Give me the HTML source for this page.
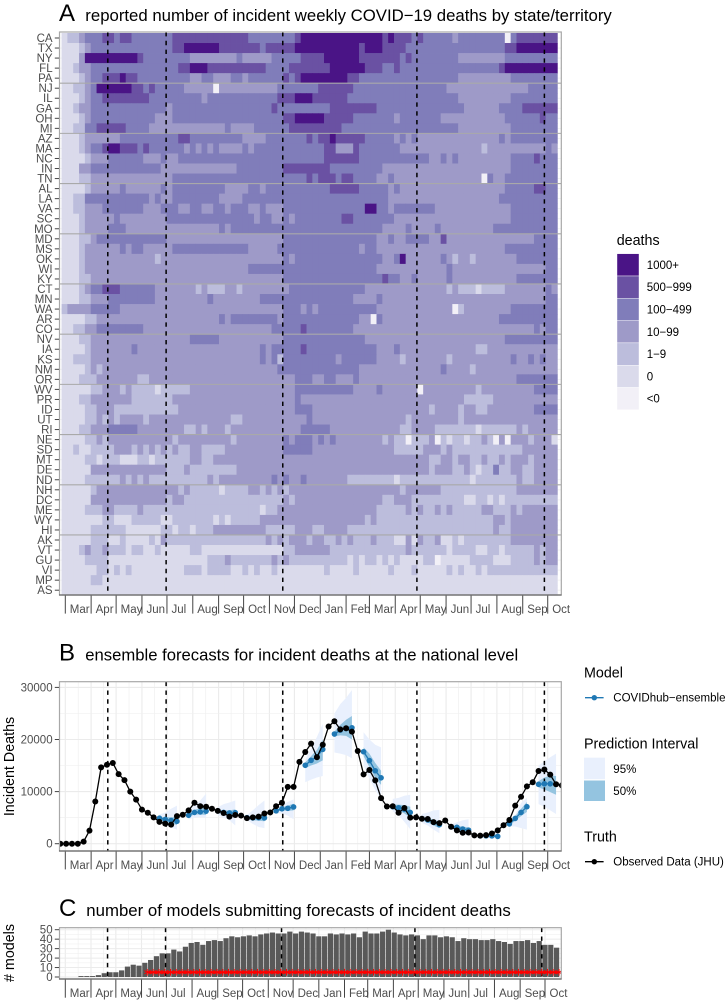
<!DOCTYPE html>
<html lang="en">
<head>
<meta charset="utf-8">
<title>COVID-19 incident deaths, forecasts and models</title>
<style>
html,body{margin:0;padding:0;background:#fff}
svg{display:block}
text{font-family:"Liberation Sans",sans-serif}
</style>
</head>
<body>
<svg id="fig" xmlns="http://www.w3.org/2000/svg" width="728" height="1003" viewBox="0 0 728 1003">
  <rect x="0" y="0" width="728" height="1003" fill="#fff"/>
  <defs>
    <clipPath id="clipB"><rect x="59" y="681.7" width="502" height="169.3"/></clipPath>
    <clipPath id="clipC"><rect x="59" y="927.7" width="502.5" height="51.3"/></clipPath>
  </defs>

  <text x="59" y="20.8" font-size="24" fill="#000">A</text>
  <text x="85.3" y="20.8" font-size="16.75" fill="#000">reported number of incident weekly COVID−19 deaths by state/territory</text>
  <text x="59" y="660.7" font-size="24" fill="#000">B</text>
  <text x="85.3" y="660.7" font-size="16.65" fill="#000">ensemble forecasts for incident deaths at the national level</text>
  <text x="59" y="916" font-size="24" fill="#000">C</text>
  <text x="86.3" y="916" font-size="16.8" fill="#000">number of models submitting forecasts of incident deaths</text>

  <g id="panelA"></g>
  <g id="panelB"></g>
  <g id="panelC"></g>

  <text transform="translate(14,766.5) rotate(-90)" text-anchor="middle" font-size="14.3" fill="#000">Incident Deaths</text>
  <text transform="translate(14,953) rotate(-90)" text-anchor="middle" font-size="14.3" fill="#000"># models</text>

  <g id="legendA">
    <text x="616.7" y="245" font-size="14.3" fill="#000">deaths</text>
  </g>

  <g>
    <text x="584" y="677.3" font-size="14.3" fill="#000">Model</text>
    <line x1="585" x2="603.6" y1="697.7" y2="697.7" stroke="#1f78b4" stroke-width="1.3"/>
    <circle cx="594.3" cy="697.7" r="2.7" fill="#1f78b4"/>
    <text x="613.3" y="701.7" font-size="11.5" fill="#000">COVIDhub−ensemble</text>
  </g>
  <g>
    <text x="584" y="748.3" font-size="14.3" fill="#000">Prediction Interval</text>
    <rect x="584" y="757.7" width="21" height="21.5" fill="#e9f0fd"/>
    <rect x="584" y="780.5" width="21" height="20.5" fill="#94c4e0"/>
    <text x="613.3" y="773" font-size="11.5" fill="#000">95%</text>
    <text x="613.3" y="795" font-size="11.5" fill="#000">50%</text>
  </g>
  <g>
    <text x="584" y="841.7" font-size="14.3" fill="#000">Truth</text>
    <line x1="585" x2="603.6" y1="861.7" y2="861.7" stroke="#000" stroke-width="1.3"/>
    <circle cx="594.3" cy="861.7" r="2.7" fill="#000"/>
    <text x="613.3" y="865.7" font-size="11.5" fill="#000">Observed Data (JHU)</text>
  </g>
</svg>

<script>
// ---------- shared categories ----------
const monthDates = ["2020-03-01","2020-04-01","2020-05-01","2020-06-01","2020-07-01","2020-08-01","2020-09-01","2020-10-01","2020-11-01","2020-12-01","2021-01-01","2021-02-01","2021-03-01","2021-04-01","2021-05-01","2021-06-01","2021-07-01","2021-08-01","2021-09-01","2021-10-01"];
const monthLabels = ["Mar","Apr","May","Jun","Jul","Aug","Sep","Oct","Nov","Dec","Jan","Feb","Mar","Apr","May","Jun","Jul","Aug","Sep","Oct"];
const milestoneDates = ["2020-04-21","2020-06-30","2020-11-17","2021-04-27","2021-09-27"];

// ---------- panel A data ----------
const heatFirstWeek = "2020-02-29";
const states = ["CA","TX","NY","FL","PA","NJ","IL","GA","OH","MI","AZ","MA","NC","IN","TN","AL","LA","VA","SC","MO","MD","MS","OK","WI","KY","CT","MN","WA","AR","CO","NV","IA","KS","NM","OR","WV","PR","ID","UT","RI","NE","SD","MT","DE","ND","NH","DC","ME","WY","HI","AK","VT","GU","VI","MP","AS"];
const deathLevelLabels = ["<0","0","1−9","10−99","100−499","500−999","1000+"];
// one string per state; one digit per week = index into deathLevelLabels
const stateWeekLevels = [
"12234 44554 55444 44445 55555 55555 55444 44444 56666 66666 66666 56555 45444 44344 44444 40455 55555",
"11123 44444 44444 44445 56666 66555 55554 55555 66666 66666 65666 55554 44444 44444 44444 45566 66666",
"11136 66666 66654 44444 44333 33333 43333 34444 45555 66666 65555 55545 44444 44433 33333 34444 44444",
"11233 44444 44444 44444 55666 55555 55555 44445 55555 56666 66555 44544 44444 44444 44444 56666 66666",
"11123 44555 65544 44444 44334 43334 43444 44454 56666 66665 54444 44444 44444 44433 33333 33444 44444",
"11223 46666 66554 54444 43333 30333 33333 33444 44445 55555 44444 44444 44444 43333 33333 33333 44444",
"11123 44555 55555 44444 44443 44444 44444 44555 66655 55554 44444 44444 44444 44433 33333 33444 44444",
"11233 44444 44444 44434 44444 44444 44444 45444 44444 45555 55554 44444 44444 44443 33333 44445 55555",
"11123 44444 44444 43334 44444 44444 44444 44455 66666 55555 44444 44344 44444 33333 33333 34444 44544",
"11224 45555 54444 33333 33333 33343 33344 44445 55555 55544 44444 44444 44444 44433 33333 33444 44444",
"11123 33333 44444 44444 55444 44444 43333 44444 44545 56555 55444 44343 43333 33333 33333 43444 44444",
"11123 44566 55545 44444 43434 34333 34344 44444 44444 55333 54444 44433 33333 33333 33233 33333 33343",
"11112 33344 44443 33433 44444 44444 44444 44444 44444 55555 54444 44444 44433 43433 33333 33444 45444",
"11133 44444 44444 44333 33333 33333 44444 44455 55555 54444 44444 33333 33333 33333 33333 33444 44444",
"11122 33333 33333 33334 44444 44444 44444 44444 44545 55455 44443 34333 33333 33333 33043 34444 44444",
"11112 33333 43333 33434 44444 44433 33443 44444 44444 45555 54444 43433 33333 33333 33333 34444 45544",
"11224 44444 44444 34334 44444 44333 34444 44444 44444 44444 44444 43333 33333 33333 33333 44444 44444",
"11223 33444 44443 33444 33443 34434 44334 33344 44444 44444 44664 43444 44443 33333 33333 33444 44444",
"11123 33334 33333 33344 44444 44444 44434 43343 44444 44455 44444 44333 33333 33333 33333 33444 44444",
"11123 33344 43333 33333 33333 33434 44444 44444 44444 44444 44444 33334 33334 33333 33334 44444 44444",
"11122 34444 44444 44433 33333 33333 33333 33344 44444 44444 44443 34334 44433 53333 33333 33333 34444",
"11123 33333 43443 33334 44444 44444 44333 33444 44444 44444 43443 33333 33333 33333 33333 34444 44444",
"11123 33333 33333 32333 33333 33333 33333 33343 44444 44444 44444 33463 33333 43233 23333 33344 44444",
"11123 33333 33333 33333 33333 33333 33444 44444 44444 44444 44443 33333 33333 34333 33333 33333 33344",
"11122 33333 33333 33333 33333 33333 33333 33344 44444 44444 44444 54433 43333 34333 33333 33344 44444",
"11123 44555 44444 43333 33323 22233 23333 33334 44444 44444 44333 33333 33333 32322 21222 23333 33343",
"11122 33344 44444 43333 33333 43333 33334 44444 44444 44444 33334 33333 33333 33333 33333 33333 33344",
"23333 44444 33333 33333 33333 33333 33333 33344 43434 44444 44443 33333 33333 33023 33333 33444 44444",
"11112 23333 33333 33333 33333 33434 44444 44344 44444 44444 43304 33333 33333 33333 33333 44444 44444",
"11223 34444 44443 33333 33333 33333 33333 34444 45444 44444 33333 33333 33333 33333 33333 33333 34344",
"11122 33333 33333 33333 33444 44333 33333 33344 44444 44444 44333 33333 33333 33333 33333 34444 44444",
"11112 33333 33433 33333 33333 33333 33334 34444 45444 44444 44443 33433 33333 33333 32233 33333 33333",
"11222 33333 33333 33333 33333 33333 33334 34244 44444 44344 44443 33323 33333 32333 33333 33433 43433",
"11112 32333 33333 33333 33333 33333 33333 33444 44444 44444 43333 33333 33333 43333 23333 33333 33333",
"11122 23333 33322 33333 33333 33333 33333 33333 44433 44333 43333 33333 33333 33333 33333 33344 44444",
"11111 22333 23222 21222 22333 33333 33333 33333 44444 44444 33334 33333 30333 33333 32333 33333 34444",
"11122 33333 33222 22223 33333 33333 33333 33333 43333 33333 33333 33333 33333 33332 22223 33333 33333",
"11112 23332 22222 22222 33333 33333 33333 33333 44433 33333 33333 33333 33323 33323 32233 33333 34444",
"11112 23232 33332 33333 33333 33332 23333 33333 33433 33333 33333 33332 33333 33323 33333 33333 33333",
"11122 33344 44433 33333 32232 33323 33333 33333 34444 43333 33333 33322 33332 22222 21222 22232 33333",
"11112 23233 33333 33332 33333 33332 33333 33343 44434 34333 33333 23220 22230 21221 22320 30333 23331",
"11211 22223 33232 32323 22332 22233 33333 33344 44433 33333 33333 33222 22333 23222 22222 22223 33333",
"11112 21222 11122 12222 22332 23333 33333 33333 33333 33333 33333 33333 33322 33233 22322 32333 23333",
"11111 33333 33333 33322 23222 22222 33333 33333 33333 33333 33333 33333 33323 33223 21224 22332 23333",
"11112 22222 32323 22222 22222 32333 33333 34343 34333 33332 22222 22122 22222 22222 12222 22232 23333",
"11111 23333 33333 33333 23222 22122 22332 32323 33333 33333 33333 33323 33333 22222 22222 22233 33333",
"11111 33333 33333 33323 32222 22222 22222 22232 33333 33333 33333 22333 22222 22221 12212 12222 22222",
"11112 22332 22232 22222 22222 22222 22221 22333 33333 33333 33332 22223 23223 23222 22332 22323 33333",
"11111 11221 11222 22112 22222 21212 22223 33333 33333 33333 33232 22222 22222 22222 22223 32333 33333",
"11111 22222 21111 11221 22122 23333 33333 22222 33322 33332 22222 22222 22222 22222 22223 22333 33333",
"11111 22211 21111 21322 22222 22222 22222 32323 33233 22323 22232 22113 13223 11212 22222 22333 33333",
"11123 22322 21221 12111 11221 11111 11111 11122 33333 32222 22222 22223 22222 21222 21122 12222 23233",
"11112 22211 11111 11111 11111 22232 22222 23232 22222 22221 21221 21211 11220 11111 22221 11222 23233",
"11111 12212 12111 11111 12221 22221 12121 12111 11111 21111 21111 12111 21111 12121 12122 22222 22222",
"11111 22111 11111 11111 11111 11111 11111 11111 11111 11111 11111 11111 11111 11111 11111 11111 11111",
"11111 11111 11111 11111 11111 11111 11111 11111 11111 11111 11111 11111 11111 11111 11111 11111 11111"
];

// ---------- panel B data ----------
const truthFirstWeek = "2020-02-24";
const truthDeaths = [0,0,0,0,400,2500,8100,14650,15150,15500,13350,12200,10000,8450,6550,5950,5050,4200,3850,3650,5300,5550,6400,7850,7200,7100,6700,6300,5900,5200,5500,5400,4900,5050,5200,5800,6000,7200,7850,10900,10900,15700,17600,19200,16600,19000,22500,23500,21950,22150,21500,17800,13300,14150,12150,8750,7150,7200,5950,6850,5000,5050,4800,4750,4150,3950,4450,3250,2550,2100,2150,1600,1550,1650,1950,2550,3550,4550,7300,9000,11000,11800,13950,14250,13250,11400,11200];
const deathTicks = [0,10000,20000,30000];
const deathTickLabels = ["0","10000","20000","30000"];
const deathMinorTicks = [5000,15000,25000];
const forecastStartWeek = [17,22,27,32,37,42,47,52,57,62,67,72,77,82];
const forecastMedian = [[4900,4650,4450,4300],[5450,6000,6100,6250],[6300,6000,5900,5950],[5000,4950,5000,4950],[6300,6700,6800,7050],[15050,16000,16700,18100],[21050,21800,22100,22250],[17650,15950,14000,12650],[7100,6900,6600,6000],[4800,4550,4100,3650],[3250,3150,2800,2600],[1500,1500,1500,1400],[3800,4850,6000,7100],[11400,11500,11500,11400]];
const forecastLow50 = [[4600,4200,3900,3600],[5100,5600,5600,5500],[6000,5600,5300,5200],[4800,4500,4400,4300],[6100,6400,6300,6400],[14500,15000,15400,16000],[20600,20800,20700,20000],[16800,14700,12600,11300],[6700,6300,5800,5000],[4500,4100,3500,3000],[3000,2800,2400,2100],[1400,1350,1300,1150],[3500,4400,5300,6100],[10800,10400,9900,9400]];
const forecastHigh50 = [[5200,5100,5100,5100],[5800,6500,6900,7200],[6500,6400,6400,6600],[5200,5400,5500,5700],[6500,7000,7300,7700],[15600,16800,18000,20000],[21500,22800,23800,24500],[18500,17300,15500,14000],[7500,7500,7400,7100],[5100,5000,4600,4300],[3450,3400,3300,3100],[1600,1650,1700,1700],[4100,5300,6700,8000],[12000,12700,13100,13000]];
const forecastLow95 = [[4200,3600,3100,2700],[4700,5000,5100,5000],[5500,5000,4500,3500],[4500,3800,3200,3000],[5800,5800,5400,4700],[11800,12300,12700,13000],[17500,17300,17000,16400],[15000,12500,10300,8500],[6200,5500,4200,2800],[4000,3500,2700,2000],[2700,2200,1800,1500],[1250,1150,1050,1000],[3300,3300,3000,2700],[7600,7100,6400,5700]];
const forecastHigh95 = [[5600,6000,6700,7300],[6300,7300,8300,9600],[7000,7600,7900,8300],[5500,6400,7400,8300],[6800,7400,8000,8500],[16050,18200,20500,23000],[25000,26800,28000,29500],[21400,20000,19000,18500],[8600,8800,9200,9400],[5700,6000,6400,6500],[3700,4100,4500,4700],[1750,1900,2000,2200],[4300,5500,7800,8800],[15000,15800,16600,17300]];

// ---------- panel C data ----------
const modelFirstWeek = "2020-03-20";
const modelCounts = [1,1,1,2,4,5,5,7,11,13,12,15,18,22,25,25,29,27,32,36,37,34,38,39,38,41,43,42,43,44,43,45,46,47,46,46,48,46,48,47,46,43,43,46,45,46,45,46,42,48,46,46,48,50,47,45,44,45,44,40,44,44,42,43,42,38,41,40,40,39,39,40,38,37,35,38,38,39,36,38,34,34,31];
const modelTicks = [0,10,20,30,40,50];
const modelTickLabels = ["0","10","20","30","40","50"];
const modelMinorTicks = [5,15,25,35,45];
const thresholdFirstWeek = "2020-06-08";
const thresholdModels = [5,5,5,5,5,5,5,5,5,5,5,5,5,5,5,5,5,5,5,5,5,5,5,5,5,5,5,5,5,5,5,5,5,5,5,5,5,5,5,5,5,5,5,5,5,5,5,5,5,5,5,5,5,5,5,5,5,5,5,5,5,5,5,5,5,5,5,5,5,5,5,5];

// ---------- style (not data) ----------
const levelColors = ["#f2f0f7","#dadaeb","#bcbddc","#9e9ac8","#807dba","#6a51a3","#4a1486"];
const NS = "http://www.w3.org/2000/svg";

function mk(tag, attrs, parent, txt) {
  const e = document.createElementNS(NS, tag);
  for (const k in attrs) e.setAttribute(k, attrs[k]);
  if (txt !== undefined) e.textContent = txt;
  parent.appendChild(e);
  return e;
}
function dayOf(s) { return (Date.parse(s + "T00:00:00Z") - Date.parse("2020-03-01T00:00:00Z")) / 864e5; }
function xTop(d) { return 65.3 + d * 0.8332; }
function xBot(d) { return 65.3 + d * 0.8285; }
function rowY(i) { return 38 + i * 10.04; }
function yDeaths(v) { return 843.7 - v * 0.00521; }
function yModels(v) { return 977 - v * 0.946; }

function drawMonthAxis(parent, xFn, top, bottom, baseline) {
  monthDates.forEach(function (m, i) {
    const x = xFn(dayOf(m));
    const t = mk("line", { x1: x, x2: x, y1: top, y2: bottom, stroke: "#444", "stroke-width": 1 }, parent);
    
    
    const l = mk("text", { x: x + 4.5, y: baseline, "font-size": 11.5, fill: "#4d4d4d" }, parent, monthLabels[i]);
    
    
  });
}
function drawMilestones(parent, xFn, top, bottom) {
  milestoneDates.forEach(function (m) {
    const x = xFn(dayOf(m));
    const d = mk("line", { x1: x, x2: x, y1: top, y2: bottom, stroke: "#000", "stroke-width": 1.5, "stroke-dasharray": "4.4 4.4" }, parent);
    
    
  });
}
function drawVerticalGrid(parent, xFn, top, bottom) {
  monthDates.forEach(function (m, i) {
    const d = dayOf(m);
    const x = xFn(d);
    const g = mk("line", { x1: x, x2: x, y1: top, y2: bottom, stroke: "#ebebeb", "stroke-width": 1.1 }, parent);
    
    
    if (i + 1 < monthDates.length) {
      const xm = xFn((d + dayOf(monthDates[i + 1])) / 2);
      const gm = mk("line", { x1: xm, x2: xm, y1: top, y2: bottom, stroke: "#f0f0f0", "stroke-width": 0.7 }, parent);
      
      
    }
  });
}
function drawFrame(parent, top, bottom) {
  const f = mk("rect", { x: 59.5, y: top, width: 501.8, height: bottom - top, fill: "none", stroke: "#a8a8a8", "stroke-width": 1.2 }, parent);
  
  
  const b = mk("line", { x1: 59, x2: 561.5, y1: bottom, y2: bottom, stroke: "#666", "stroke-width": 1.2 }, parent);
  
  
}
function drawYTick(parent, y, label) {
  const t = mk("line", { x1: 54.8, x2: 59, y1: y, y2: y, stroke: "#444", "stroke-width": 1 }, parent);
  
  
  const l = mk("text", { x: 52.6, y: y + 4, "text-anchor": "end", "font-size": 11.5, fill: "#4d4d4d" }, parent, label);
  
  
}

// ---------- panel A ----------
(function () {
  const p = document.getElementById("panelA");
  const firstDay = dayOf(heatFirstWeek);
  const cw = 7 * 0.8332;
  const ch = 10.04;
  states.forEach(function (s, r) {
    const y = rowY(r);
    const g = mk("line", { x1: 59, x2: 561, y1: y, y2: y, stroke: "#f0f0f0", "stroke-width": 0.8 }, p);
    
    
  });
  states.forEach(function (s, r) {
    const levels = stateWeekLevels[r].replace(/\s/g, "").split("").map(Number);
    levels.forEach(function (lv, k) {
      const cx = xTop(firstDay + 7 * k);
      const c = mk("rect", { x: cx - cw / 2, y: rowY(r) - ch / 2, width: cw + 0.4, height: ch + 0.4, fill: levelColors[lv] }, p);
      
      
    });
  });
  states.forEach(function (s, r) {
    if (r % 5 === 4 && r < 50) {
      const y = rowY(r) + ch / 2;
      const h = mk("line", { x1: 59, x2: 561, y1: y, y2: y, stroke: "#a9a9a9", "stroke-width": 1.1 }, p);
      
      
    }
  });
  drawMilestones(p, xTop, 32, 595);
  drawFrame(p, 32, 595);
  states.forEach(function (s, r) {
    drawYTick(p, rowY(r), s);
  });
  drawMonthAxis(p, xTop, 595.6, 613.6, 613.2);
})();

// ---------- deaths legend ----------
(function () {
  const p = document.getElementById("legendA");
  const n = deathLevelLabels.length;
  for (let i = 0; i < n; i++) {
    const lv = n - 1 - i;
    const y = 253.7 + i * 22.3;
    const s = mk("rect", { x: 617, y: y, width: 22, height: 22.3, fill: levelColors[lv], stroke: "#fff", "stroke-width": 0.4 }, p);
    
    
    const l = mk("text", { x: 646.7, y: y + 15.2, "font-size": 11.5, fill: "#000" }, p, deathLevelLabels[lv]);
    
    
  }
})();

// ---------- panel B ----------
(function () {
  const p = document.getElementById("panelB");
  const inner = mk("g", { "clip-path": "url(#clipB)" }, p);
  
  
  const top = 681.7, bottom = 851;
  drawVerticalGrid(inner, xTop, top, bottom);
  deathTicks.forEach(function (v) {
    const g = mk("line", { x1: 59, x2: 561, y1: yDeaths(v), y2: yDeaths(v), stroke: "#ebebeb", "stroke-width": 1.1 }, inner);
    
    
  });
  deathMinorTicks.forEach(function (v) {
    const g = mk("line", { x1: 59, x2: 561, y1: yDeaths(v), y2: yDeaths(v), stroke: "#f0f0f0", "stroke-width": 0.7 }, inner);
    
    
  });
  const d0 = dayOf(truthFirstWeek);
  function wx(k) { return xTop(d0 + 7 * k); }
  function band(startK, lo, hi) {
    const a = hi.map(function (v, i) { return wx(startK + i) + "," + yDeaths(v); });
    const b = lo.map(function (v, i) { return wx(startK + i) + "," + yDeaths(v); }).reverse();
    return a.concat(b).join(" ");
  }
  forecastStartWeek.forEach(function (k0, g) {
    const r95 = mk("polygon", { points: band(k0, forecastLow95[g], forecastHigh95[g]), fill: "#e9f0fd" }, inner);
    
    
  });
  forecastStartWeek.forEach(function (k0, g) {
    const r50 = mk("polygon", { points: band(k0, forecastLow50[g], forecastHigh50[g]), fill: "#94c4e0" }, inner);
    
    
  });
  drawMilestones(inner, xTop, top, bottom);
  forecastStartWeek.forEach(function (k0, g) {
    const pts = forecastMedian[g].map(function (v, i) { return wx(k0 + i) + "," + yDeaths(v); }).join(" ");
    const ln = mk("polyline", { points: pts, fill: "none", stroke: "#1f78b4", "stroke-width": 1.3 }, inner);
    
    
    forecastMedian[g].forEach(function (v, i) {
      const c = mk("circle", { cx: wx(k0 + i), cy: yDeaths(v), r: 2.8, fill: "#1f78b4" }, inner);
      
      
    });
  });
  const truthPts = truthDeaths.map(function (v, k) { return wx(k) + "," + yDeaths(v); }).join(" ");
  const tl = mk("polyline", { points: truthPts, fill: "none", stroke: "#000", "stroke-width": 1.3 }, inner);
  
  
  truthDeaths.forEach(function (v, k) {
    const c = mk("circle", { cx: wx(k), cy: yDeaths(v), r: 3, fill: "#000" }, inner);
    
    
  });
  drawFrame(p, top, bottom);
  deathTicks.forEach(function (v, i) { drawYTick(p, yDeaths(v), deathTickLabels[i]); });
  drawMonthAxis(p, xTop, 851.6, 869.4, 869);
})();

// ---------- panel C ----------
(function () {
  const p = document.getElementById("panelC");
  const inner = mk("g", { "clip-path": "url(#clipC)" }, p);
  
  
  const top = 927.7, bottom = 979;
  drawVerticalGrid(inner, xBot, top, bottom);
  modelTicks.forEach(function (v) {
    const g = mk("line", { x1: 59, x2: 561, y1: yModels(v), y2: yModels(v), stroke: "#ebebeb", "stroke-width": 1 }, inner);
    
    
  });
  modelMinorTicks.forEach(function (v) {
    const g = mk("line", { x1: 59, x2: 561, y1: yModels(v), y2: yModels(v), stroke: "#f0f0f0", "stroke-width": 0.6 }, inner);
    
    
  });
  const d0 = dayOf(modelFirstWeek);
  modelCounts.forEach(function (v, k) {
    const cx = xBot(d0 + 7 * k);
    const b = mk("rect", { x: cx - 2.6, y: yModels(v), width: 5.2, height: yModels(0) - yModels(v), fill: "#595959" }, inner);
    
    
  });
  drawMilestones(inner, xBot, top, bottom);
  const t0 = dayOf(thresholdFirstWeek);
  const lpts = thresholdModels.map(function (v, k) { return xBot(t0 + 7 * k) + "," + yModels(v); }).join(" ");
  const rl = mk("polyline", { points: lpts, fill: "none", stroke: "#ff0000", "stroke-width": 1.8 }, inner);
  
  
  const spokes = [[0, -3.4], [2.95, -1.7], [2.95, 1.7]];
  thresholdModels.forEach(function (v, k) {
    const cx = xBot(t0 + 7 * k), cy = yModels(v);
    spokes.forEach(function (s) {
      const a = mk("line", { x1: cx - s[0], x2: cx + s[0], y1: cy - s[1], y2: cy + s[1], stroke: "#ff0000", "stroke-width": 1 }, inner);
      
      
    });
  });
  drawFrame(p, top, bottom);
  modelTicks.forEach(function (v, i) { drawYTick(p, yModels(v), modelTickLabels[i]); });
  drawMonthAxis(p, xBot, 979.6, 997.7, 997.2);
})();
</script>
</body>
</html>
